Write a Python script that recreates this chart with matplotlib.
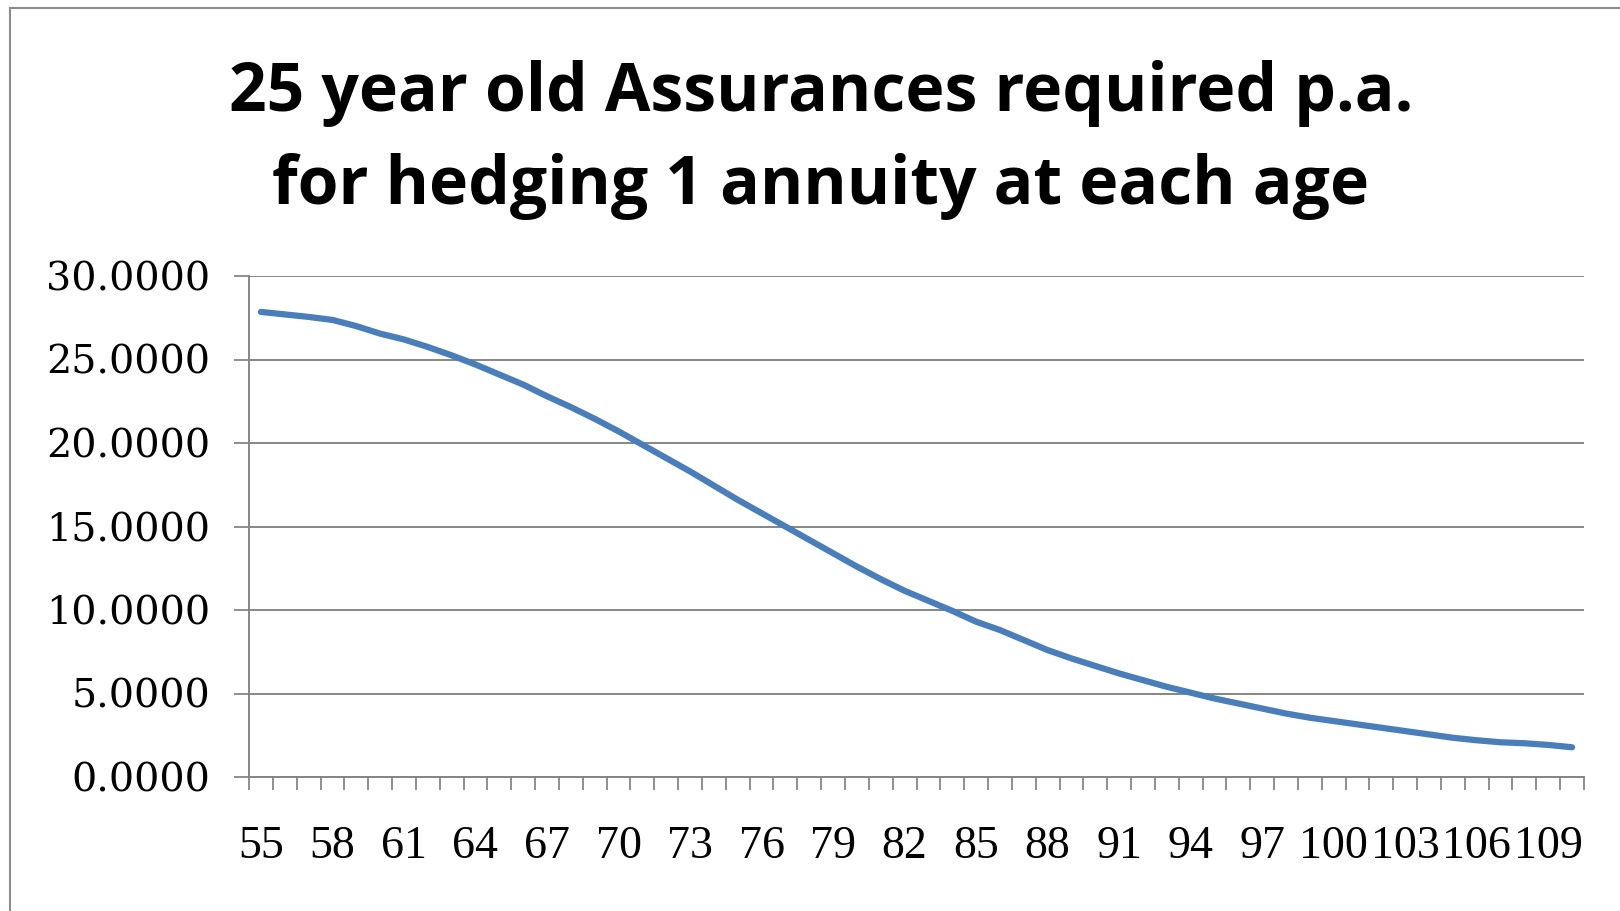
import matplotlib
matplotlib.use("Agg")
import matplotlib.pyplot as plt
from matplotlib.ticker import FixedLocator, NullFormatter

# Ages at which an annuity is hedged
ages = list(range(55, 111))

# Assurances required per annum for each age
assurances = [
    27.85, 27.70, 27.55, 27.37, 27.00, 26.55, 26.20, 25.75, 25.25, 24.70,
    24.10, 23.50, 22.80, 22.15, 21.45, 20.70, 19.90, 19.10, 18.30, 17.45,
    16.60, 15.80, 15.00, 14.20, 13.40, 12.60, 11.85, 11.15, 10.55, 9.95,
    9.30, 8.80, 8.20, 7.60, 7.10, 6.65, 6.20, 5.80, 5.40, 5.05,
    4.70, 4.40, 4.10, 3.80, 3.55, 3.35, 3.15, 2.95, 2.75, 2.55,
    2.35, 2.20, 2.08, 2.02, 1.92, 1.78,
]

y_ticks = [0, 5, 10, 15, 20, 25, 30]
title_text = "25 year old Assurances required p.a.\nfor hedging 1 annuity at each age"

W, H, DPI = 1620, 911, 100
fig = plt.figure(figsize=(W / DPI, H / DPI), dpi=DPI)
fig.patch.set_facecolor("white")

# chart-area frame (top and left edges visible)
frame_col = "#8c8c8c"
fig.add_artist(plt.Line2D([10 / W, 10 / W], [0, 1 - 8 / H], color=frame_col, lw=1.5,
                          transform=fig.transFigure))
fig.add_artist(plt.Line2D([10 / W, 1], [1 - 8 / H, 1 - 8 / H], color=frame_col, lw=1.5,
                          transform=fig.transFigure))

left, right, top, bottom = 249, 1584, 276, 777
ax = fig.add_axes([left / W, 1 - bottom / H, (right - left) / W, (bottom - top) / H])

x = list(range(len(ages)))
ax.plot(x, assurances, color="#4A7EBB", lw=4.5, solid_capstyle="round", zorder=3)

ax.set_xlim(-0.5, len(ages) - 0.5)
ax.set_ylim(0, 30)

grid_col = "#868686"
ax.set_yticks(y_ticks)
ax.set_yticklabels([f"{v:.4f}" for v in y_ticks], fontfamily="DejaVu Serif", fontsize=28.5)
ax.yaxis.grid(True, color=grid_col, lw=1.4)
ax.set_axisbelow(True)

# category labels every third age, tick marks between categories
major_idx = list(range(0, len(ages), 3))
ax.xaxis.set_major_locator(FixedLocator(major_idx))
ax.set_xticklabels([str(ages[i]) for i in major_idx], fontfamily="Liberation Serif", fontsize=33)
ax.xaxis.set_minor_locator(FixedLocator([i - 0.5 for i in range(len(ages) + 1)]))
ax.xaxis.set_minor_formatter(NullFormatter())
ax.tick_params(axis="x", which="major", length=0, pad=35)
ax.tick_params(axis="x", which="minor", length=9, width=1.3, color=grid_col, direction="out")
ax.tick_params(axis="y", length=11, width=1.3, color=grid_col, direction="out", pad=17)

for s in ("top", "right"):
    ax.spines[s].set_visible(False)
for s in ("left", "bottom"):
    ax.spines[s].set_color(grid_col)
    ax.spines[s].set_linewidth(1.4)

fig.text(821 / W, 1 - 140 / H, title_text, ha="center", va="center",
         fontfamily="Open Sans", fontweight="bold", fontsize=47.5, linespacing=1.5)

fig.savefig("out.png", dpi=DPI, facecolor="white")
